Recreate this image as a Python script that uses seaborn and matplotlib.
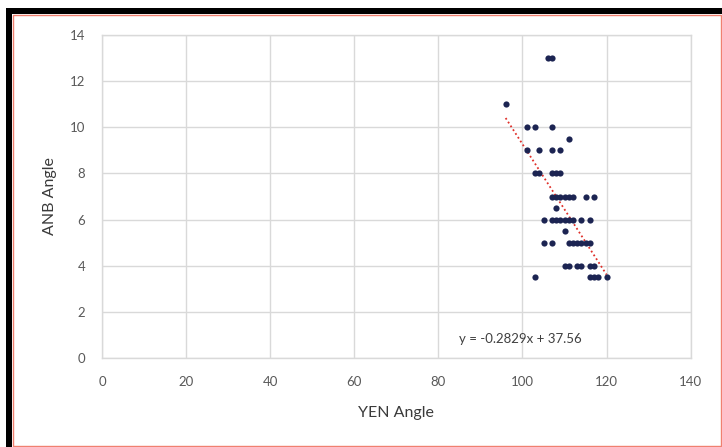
import numpy as np
import pandas as pd
import matplotlib
matplotlib.use("Agg")
import matplotlib.pyplot as plt
from matplotlib.patches import Rectangle
import seaborn as sns

# values
yen_angle = [96, 101, 103, 107, 111, 101, 104, 107, 109,
             103, 104, 107, 108, 109, 106, 107,
             107, 108, 109, 110, 111, 112, 115, 117, 108,
             105, 107, 108, 109, 110, 111, 112, 114, 116, 110,
             105, 107, 111, 112, 113, 114, 115, 116,
             110, 111, 113, 114, 116, 117,
             103, 116, 117, 118, 120]
anb_angle = [11, 10, 10, 10, 9.5, 9, 9, 9, 9,
             8, 8, 8, 8, 8, 13, 13,
             7, 7, 7, 7, 7, 7, 7, 7, 6.5,
             6, 6, 6, 6, 6, 6, 6, 6, 6, 5.5,
             5, 5, 5, 5, 5, 5, 5, 5,
             4, 4, 4, 4, 4, 4,
             3.5, 3.5, 3.5, 3.5, 3.5]
slope = -0.2829
intercept = 37.56
equation = "y = -0.2829x + 37.56"
x_ticks = [0, 20, 40, 60, 80, 100, 120, 140]
y_ticks = [0, 2, 4, 6, 8, 10, 12, 14]

df = pd.DataFrame({"YEN Angle": yen_angle, "ANB Angle": anb_angle})

sns.set_theme(style="white")
plt.rcParams['font.family'] = ['Lato', 'DejaVu Sans']

fig = plt.figure(figsize=(7.22, 4.47), dpi=100)
ax = fig.add_axes([0.1413, 0.1991, 0.8153, 0.7226])

# trendline over the data range
xs = np.array([min(yen_angle), max(yen_angle)])
ax.plot(xs, slope * xs + intercept, color="#e0302a", linestyle=(0, (1, 1.5)),
        linewidth=1.3, zorder=2)

sns.scatterplot(data=df, x="YEN Angle", y="ANB Angle", ax=ax, color="#1c2452",
                s=20, marker="o", edgecolor="#1c2452", linewidth=0, zorder=3)

ax.set_xlim(0, 140)
ax.set_ylim(0, 14)
ax.set_xticks(x_ticks)
ax.set_yticks(y_ticks)
ax.grid(True, color="#d9d9d9", linewidth=1)
ax.set_axisbelow(True)
for s in ax.spines.values():
    s.set_color("#d9d9d9")
    s.set_linewidth(1)
ax.tick_params(axis="both", length=0, labelsize=9.5, labelcolor="#595959")
ax.tick_params(axis="x", pad=13)
ax.tick_params(axis="y", pad=12)
ax.set_xlabel("YEN Angle", fontsize=11.5, color="#3a3a3a", labelpad=13)
ax.set_ylabel("ANB Angle", fontsize=11.5, color="#3a3a3a", labelpad=9)

ax.text(85, 0.82, equation, fontsize=9.5, color="#404040", va="center", ha="left")

# frame around the picture
W, H = 722, 447
fig.patches.append(Rectangle((6 / W, 0), 6 / W, 1 - 8 / H, transform=fig.transFigure,
                             facecolor="black", edgecolor="none", zorder=10))
fig.patches.append(Rectangle((6 / W, 1 - 14 / H), 1 - 6 / W, 6 / H, transform=fig.transFigure,
                             facecolor="black", edgecolor="none", zorder=10))
fig.patches.append(Rectangle((12.5 / W, 1.5 / H), 708 / W, 1 - 16 / H, transform=fig.transFigure,
                             facecolor="none", edgecolor="#f08070", linewidth=1, zorder=9))

fig.savefig("out.png", dpi=100)
